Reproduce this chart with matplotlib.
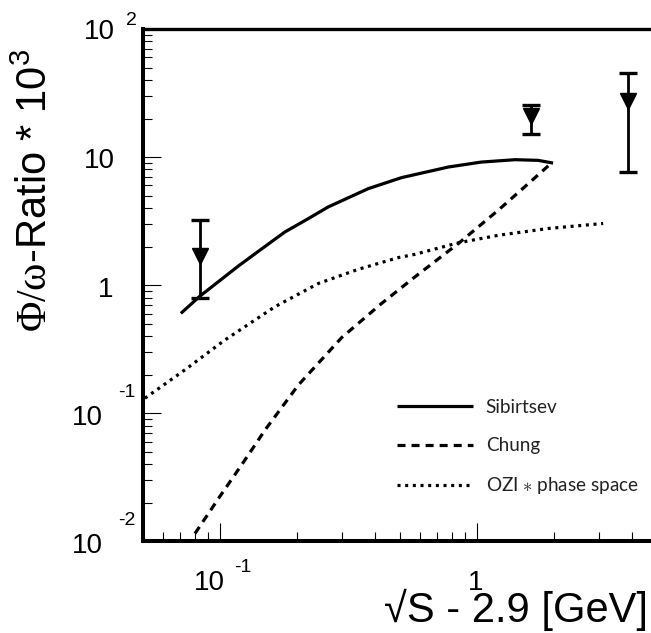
import matplotlib
matplotlib.use("Agg")
import matplotlib.pyplot as plt

plt.rcParams['mathtext.fontset'] = 'custom'
plt.rcParams['mathtext.rm'] = 'Liberation Serif'
plt.rcParams['mathtext.sf'] = 'Liberation Sans'

# curves
sib_x = [0.0705, 0.0836, 0.118, 0.146, 0.179, 0.221, 0.264, 0.378, 0.509, 0.774, 1.04, 1.41, 1.73, 1.98]
sib_y = [0.602, 0.82, 1.41, 1.93, 2.60, 3.31, 4.08, 5.67, 6.91, 8.36, 9.14, 9.54, 9.43, 8.98]

chung_x = [0.080, 0.100, 0.1215, 0.150, 0.202, 0.298, 0.426, 0.574, 0.846, 1.21, 1.585, 1.95]
chung_y = [0.0115, 0.0224, 0.0395, 0.0741, 0.166, 0.39, 0.72, 1.16, 2.11, 3.84, 6.2, 8.98]

ozi_x = [0.0511, 0.0731, 0.1046, 0.1637, 0.2415, 0.3455, 0.4944, 0.574, 0.846, 1.211, 1.896, 3.10]
ozi_y = [0.131, 0.218, 0.373, 0.678, 1.03, 1.33, 1.64, 1.74, 2.14, 2.45, 2.77, 3.03]

# measured points (upper limits with error bars)
pt_x = [0.0836, 1.62, 3.88]
pt_y = [1.68, 21.1, 27.2]
pt_lo = [0.80, 15.2, 7.64]
pt_hi = [3.21, 25.3, 45.2]

labels = ['Sibirtsev', 'Chung', 'OZI $\\ast$ phase space']

ytick_vals = [0.01, 0.1, 1, 10, 100]
ytick_base = ['10', '10', '1', '10', '10']
ytick_exp = ['-2', '-1', '', '', '2']
xtick_vals = [0.1, 1]
xtick_base = ['10', '1']
xtick_exp = ['-1', '']

fig = plt.figure(figsize=(6.51, 6.33), dpi=100)
ax = fig.add_axes([142.5 / 651, 1 - 541.3 / 633, 514 / 651, (541.3 - 29) / 633])
ax.set_xscale('log')
ax.set_yscale('log')
ax.set_xlim(0.05, 5)
ax.set_ylim(0.01, 100)

lw = 2.3
dash = (0, (2.5, 1.9))
dots = (0, (0.95, 1.45))
l1, = ax.plot(sib_x, sib_y, color='black', lw=lw, solid_capstyle='butt')
l2, = ax.plot(chung_x, chung_y, color='black', lw=lw, ls=dash)
l3, = ax.plot(ozi_x, ozi_y, color='black', lw=lw, ls=dots)

yerr = [[y - lo for y, lo in zip(pt_y, pt_lo)], [hi - y for y, hi in zip(pt_y, pt_hi)]]
ax.errorbar(pt_x, pt_y, yerr=yerr, fmt='v', color='black', ms=11.5,
            elinewidth=2.0, capsize=6.2, capthick=2.4)

for s in ['left', 'bottom']:
    ax.spines[s].set_linewidth(2.9)
ax.spines['top'].set_linewidth(2.4)
ax.spines['right'].set_visible(False)

ax.tick_params(which='both', direction='in', top=False, right=False,
               labelleft=False, labelbottom=False, color='black')
ax.tick_params(which='major', length=13, width=0.8)
ax.tick_params(which='minor', length=6.5, width=0.8)
ax.set_yticks(ytick_vals)
ax.set_xticks([0.1, 1])

tfont = dict(family=['Liberation Sans', 'DejaVu Sans'], color='black')
# y tick labels in ROOT style: base and exponent written apart
ybase_dx = [-55, -55, -36.5, -43.5, -43.5]
ybase_dy = [-11.7, -11.7, -11.7, -11, -10]
yexp_dx = [-15.5, -15.5, 0, 0, -11.5]
yexp_dy = [16, 16, 0, 0, 4]
for v, b, e, bx, by, ex, ey in zip(ytick_vals, ytick_base, ytick_exp,
                                   ybase_dx, ybase_dy, yexp_dx, yexp_dy):
    ax.annotate(b, xy=(0, v), xycoords=('axes fraction', 'data'), xytext=(bx, by),
                textcoords='offset pixels', ha='center', va='baseline', fontsize=20, **tfont)
    if e:
        ax.annotate(e, xy=(0, v), xycoords=('axes fraction', 'data'), xytext=(ex, ey),
                    textcoords='offset pixels', ha='center', va='baseline', fontsize=14, **tfont)

xbase_dx = [-10.8, -1.3]
xexp_dx = [23.2, 0]
for v, b, e, bx, ex in zip(xtick_vals, xtick_base, xtick_exp, xbase_dx, xexp_dx):
    ax.annotate(b, xy=(v, 0), xycoords=('data', 'axes fraction'), xytext=(bx, -48.7),
                textcoords='offset pixels', ha='center', va='baseline', fontsize=20, **tfont)
    if e:
        ax.annotate(e, xy=(v, 0), xycoords=('data', 'axes fraction'), xytext=(ex, -30.4),
                    textcoords='offset pixels', ha='center', va='baseline', fontsize=14, **tfont)

fig.text(648 / 651, 1 - 621.7 / 633, '\u221aS - 2.9 [GeV]', ha='right', va='baseline',
         fontsize=30, **tfont)
fig.text(36 / 651, 1 - 190 / 633, r'$\mathrm{\Phi/\omega}$-Ratio * 10$^{\mathsf{3}}$',
         rotation=90, ha='center', va='center', fontsize=30, **tfont)

leg = ax.legend([l1, l2, l3], labels, loc='upper left',
                bbox_to_anchor=(397 / 651, 1 - 399 / 633), bbox_transform=fig.transFigure,
                frameon=False, handlelength=4.0, handletextpad=0.7, labelspacing=1.12,
                borderpad=0, borderaxespad=0,
                prop=dict(family=['Lato', 'DejaVu Sans'], size=13.6))
for t in leg.get_texts():
    t.set_color('#222222')

fig.savefig('out.png', dpi=100)
